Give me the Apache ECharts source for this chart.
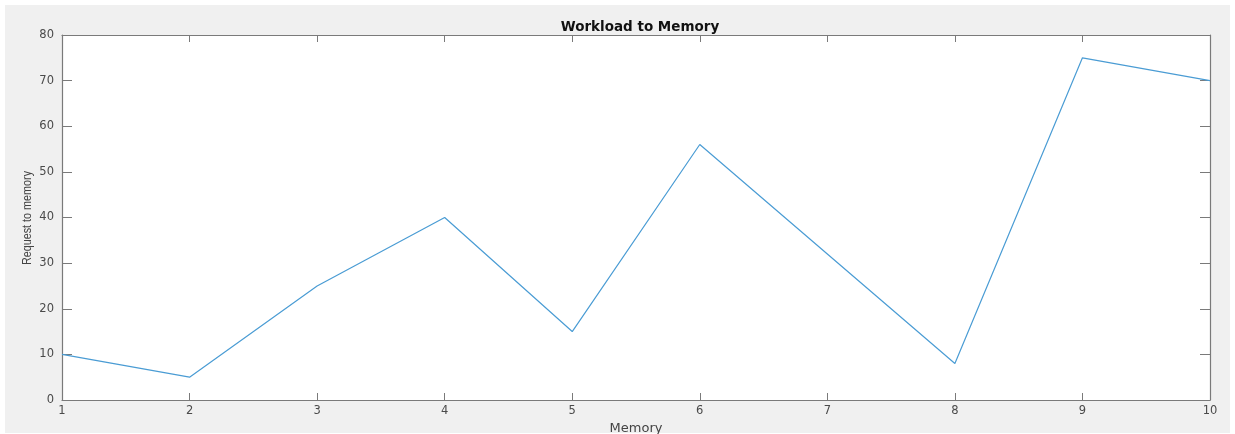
<!DOCTYPE html>
<html>
<head>
<meta charset="utf-8">
<script src="https://cdn.jsdelivr.net/npm/echarts@6/dist/echarts.min.js"></script>
<style>
html,body{margin:0;padding:0;background:#fff;}
#c{width:1235px;height:434px;}
</style>
</head>
<body>
<div id="c"></div>
<script>
const xValues = [1, 2, 3, 4, 5, 6, 7, 8, 9, 10];
const requests = [10, 5, 25, 40, 15, 56, 32, 8, 75, 70];
const titleText = 'Workload to Memory';
const xName = 'Memory';
const yName = 'Request to memory';

const axisColor = '#7a7a7a';
const labelColor = '#4a4a4a';
const tickFont = 'DejaVu Sans';

const chart = echarts.init(document.getElementById('c'), null, {renderer: 'canvas'});
const data = xValues.map((x, i) => [x, requests[i]]);

chart.setOption({
  backgroundColor: '#ffffff',
  animation: false,
  graphic: [{
    type: 'rect',
    left: 5, top: 5,
    shape: {width: 1225, height: 428},
    style: {fill: '#f0f0f0'},
    z: -10, silent: true
  }, {
    type: 'text',
    x: 27, y: 218,
    rotation: Math.PI / 2,
    scaleX: 0.8,
    style: {
      text: yName,
      fontFamily: 'Liberation Sans, Arial, sans-serif',
      fontSize: 13.5,
      fill: '#444',
      align: 'center',
      verticalAlign: 'middle'
    },
    z: 10, silent: true
  }],
  title: {
    text: titleText,
    left: 635, top: 15,
    textAlign: 'center',
    textStyle: {fontFamily: 'DejaVu Sans', fontWeight: 'bold', fontSize: 13.5, color: '#111'}
  },
  grid: {
    left: 62, top: 35, right: 25, bottom: 34,
    containLabel: false,
    outerBoundsMode: 'none',
    show: true, backgroundColor: '#ffffff', borderWidth: 0
  },
  xAxis: [{
    type: 'value', min: 1, max: 10, interval: 1,
    name: xName, nameLocation: 'middle', nameGap: 14,
    nameTextStyle: {fontFamily: 'DejaVu Sans', fontSize: 13, color: '#444'},
    axisLine: {show: true, onZero: false, lineStyle: {color: axisColor, width: 1.2}},
    axisTick: {show: true, inside: true, length: 7, lineStyle: {color: axisColor}},
    axisLabel: {fontFamily: tickFont, fontSize: 11.5, color: labelColor, margin: 5},
    splitLine: {show: false}
  }, {
    type: 'value', min: 1, max: 10, interval: 1, position: 'top',
    axisLine: {show: true, onZero: false, lineStyle: {color: axisColor, width: 1.2}},
    axisTick: {show: true, inside: true, length: 7, lineStyle: {color: axisColor}},
    axisLabel: {show: false},
    splitLine: {show: false}
  }],
  yAxis: [{
    type: 'value', min: 0, max: 80, interval: 10,
    axisLine: {show: true, onZero: false, lineStyle: {color: axisColor, width: 1.2}},
    axisTick: {show: true, inside: true, length: 10, lineStyle: {color: axisColor}},
    axisLabel: {fontFamily: tickFont, fontSize: 11.5, color: labelColor, margin: 8},
    splitLine: {show: false}
  }, {
    type: 'value', min: 0, max: 80, interval: 10, position: 'right',
    axisLine: {show: true, onZero: false, lineStyle: {color: axisColor, width: 1.2}},
    axisTick: {show: true, inside: true, length: 10, lineStyle: {color: axisColor}},
    axisLabel: {show: false},
    splitLine: {show: false}
  }],
  series: [{
    type: 'line',
    data: data,
    xAxisIndex: 0, yAxisIndex: 0,
    showSymbol: false,
    symbol: 'none',
    lineStyle: {color: '#4a9cd4', width: 1.2},
    z: 1
  }]
});
</script>
</body>
</html>
